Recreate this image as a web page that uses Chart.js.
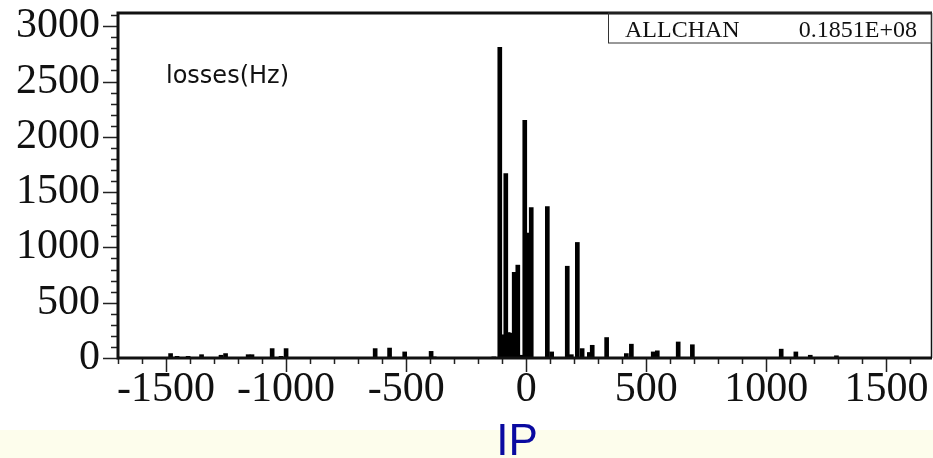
<!DOCTYPE html>
<html>
<head>
<meta charset="utf-8">
<script src="https://cdn.jsdelivr.net/npm/chart.js@4/dist/chart.umd.min.js"></script>
<style>
  html, body { margin: 0; padding: 0; background: #fff; }
  canvas { display: block; }
</style>
</head>
<body>
<canvas id="lossChart" width="933" height="458"></canvas>
<script>
// --- data ---
const ipPositions = [-1481, -1454, -1408, -1352, -1271, -1252, -1158, -1142, -1058, -1021,
    -1000, -671, -629, -569, -506, -396, -383, -135, -110, -96,
    -85, -75, -62, -50, -35, -23, -6, 6, 21, 88,
    106, 171, 188, 213, 233, 263, 275, 335, 417, 438,
    529, 546, 633, 692, 1021, 1062, 1123, 1183, 1292];
const lossRates = [40, 15, 15, 30, 25, 40, 30, 30, 85, 15,
    85, 5, 85, 90, 55, 60, 10, 10, 2810, 210,
    1667, 230, 225, 775, 840, 25, 2150, 1130, 1360, 1370,
    55, 830, 30, 1045, 85, 50, 115, 185, 40, 125,
    55, 65, 145, 120, 5, 80, 55, 25, 20];
const xTickValues = [-1500, -1000, -500, 0, 500, 1000, 1500];
const yTickValues = [0, 500, 1000, 1500, 2000, 2500, 3000];
const statLabel = 'ALLCHAN';
const statValue = '0.1851E+08';
const histTitle = 'losses(Hz)';
const axisTitle = 'IP';

const serif = '"Liberation Serif", "Times New Roman", serif';

// background, frame, minor/major ticks, stat box and labels
const decorations = {
    id: 'decorations',
    beforeDraw(chart) {
        const ctx = chart.ctx;
        ctx.save();
        ctx.fillStyle = '#ffffff';
        ctx.fillRect(0, 0, chart.width, chart.height);
        ctx.fillStyle = '#fdfdec';
        ctx.fillRect(0, 430, chart.width, chart.height - 430);
        ctx.restore();
    },
    afterDraw(chart) {
        const ctx = chart.ctx;
        const a = chart.chartArea;
        const xs = chart.scales.x, ys = chart.scales.y;
        ctx.save();

        // ticks
        ctx.strokeStyle = '#222';
        ctx.lineWidth = 1.5;
        ctx.beginPath();
        for (let v = 0; v <= ys.max; v += 100) {
            const py = Math.round(ys.getPixelForValue(v)) + 0.5;
            const len = v % 500 === 0 ? 15 : 7;
            ctx.moveTo(a.left - len, py);
            ctx.lineTo(a.left, py);
        }
        for (let v = -1700; v <= xs.max; v += 100) {
            const px = Math.round(xs.getPixelForValue(v)) + 0.5;
            const len = v % 500 === 0 ? 14 : 6;
            ctx.moveTo(px, a.bottom);
            ctx.lineTo(px, a.bottom + len);
        }
        ctx.stroke();

        // frame
        ctx.strokeStyle = '#111';
        ctx.lineWidth = 3;
        ctx.beginPath();
        ctx.moveTo(a.right, a.top);
        ctx.lineTo(a.left, a.top);
        ctx.lineTo(a.left, a.bottom);
        ctx.lineTo(a.right, a.bottom);
        ctx.stroke();
        ctx.lineWidth = 1.5;
        ctx.beginPath();
        ctx.moveTo(a.right - 0.5, a.top);
        ctx.lineTo(a.right - 0.5, a.bottom);
        ctx.stroke();

        // stat box
        ctx.lineWidth = 1;
        ctx.strokeStyle = '#333';
        ctx.strokeRect(608.5, a.top, a.right - 609, 30);
        ctx.fillStyle = '#111';
        ctx.font = '24px ' + serif;
        ctx.textBaseline = 'alphabetic';
        ctx.textAlign = 'left';
        ctx.fillText(statLabel, 625, 37);
        ctx.textAlign = 'right';
        ctx.fillText(statValue, 917, 37);

        // histogram title
        ctx.textAlign = 'left';
        ctx.font = '24px "DejaVu Sans", sans-serif';
        ctx.fillText(histTitle, 166, 83);

        // axis title
        ctx.fillStyle = '#0a0aa0';
        ctx.textAlign = 'center';
        ctx.font = '44px "Liberation Sans", Arial, sans-serif';
        ctx.fillText(axisTitle, 517, 455);

        ctx.restore();
    }
};

new Chart(document.getElementById('lossChart'), {
    type: 'bar',
    data: {
        datasets: [{
            data: ipPositions.map((x, i) => ({ x: x, y: lossRates[i] })),
            backgroundColor: '#000',
            borderWidth: 0,
            barThickness: 4
        }]
    },
    options: {
        responsive: false,
        animation: false,
        layout: { padding: { top: 13, right: 1, left: 0, bottom: 0 } },
        plugins: { legend: { display: false }, tooltip: { enabled: false } },
        scales: {
            x: {
                type: 'linear',
                min: -1700,
                max: 1690,
                offset: false,
                grid: { display: false, drawTicks: false },
                border: { display: false },
                afterBuildTicks: (scale) => { scale.ticks = xTickValues.map(v => ({ value: v })); },
                afterFit: (scale) => {
                    scale.height = 100;
                    scale.paddingLeft = 0;
                    scale.paddingRight = 0;
                },
                ticks: {
                    autoSkip: false,
                    maxRotation: 0,
                    padding: 7,
                    color: '#111',
                    font: { family: serif, size: 42 },
                    callback: (v) => String(v)
                }
            },
            y: {
                min: 0,
                max: 3120,
                grid: { display: false, drawTicks: false },
                border: { display: false },
                afterBuildTicks: (scale) => { scale.ticks = yTickValues.map(v => ({ value: v })); },
                afterFit: (scale) => {
                    scale.width = 118;
                    scale.paddingTop = 0;
                    scale.paddingBottom = 0;
                },
                ticks: {
                    autoSkip: false,
                    padding: 18,
                    color: '#111',
                    font: { family: serif, size: 42 },
                    callback: (v) => String(v)
                }
            }
        }
    },
    plugins: [decorations]
});
</script>
</body>
</html>
